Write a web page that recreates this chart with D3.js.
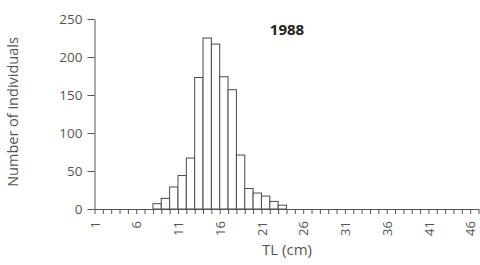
<!DOCTYPE html>
<html>
<head>
<meta charset="utf-8">
<script src="https://cdn.jsdelivr.net/npm/d3@7"></script>
<style>
  body { margin: 0; background: #fff; }
  text { font-family: "Open Sans", "Liberation Sans", sans-serif; }
</style>
</head>
<body>
<div id="chart-container"></div>
<script>
// Length classes (TL, cm) and counts of individuals, 1988
const lengthClasses = d3.range(1, 47);
const countLengths = [8, 9, 10, 11, 12, 13, 14, 15, 16, 17, 18, 19, 20, 21, 22, 23];
const counts = [7, 14, 29, 44, 67, 173, 225, 217, 174, 157, 71, 27, 21, 17, 10, 5];
const xTickLabels = [1, 6, 11, 16, 21, 26, 31, 36, 41, 46];
const yTickValues = [0, 50, 100, 150, 200, 250];
const title = "1988";

const width = 480, height = 265;
const margin = { left: 94.5, right: 1.5, top: 19, bottom: 56 };

const svg = d3.select("#chart-container")
  .append("svg")
  .attr("width", width)
  .attr("height", height);

const xScale = d3.scaleLinear()
  .domain([0.5, 46.5])
  .range([margin.left, width - margin.right]);

const yScale = d3.scaleLinear()
  .domain([0, 250])
  .range([height - margin.bottom, margin.top]);

const axisColor = "#555";

// Bars
const bars = countLengths.map((v, i) => ({ len: v, n: counts[i] }));
svg.selectAll("rect.bar")
  .data(bars)
  .enter()
  .append("rect")
  .attr("class", "bar")
  .attr("x", d => xScale(d.len - 0.5))
  .attr("y", d => yScale(d.n))
  .attr("width", d => xScale(d.len + 0.5) - xScale(d.len - 0.5))
  .attr("height", d => yScale(0) - yScale(d.n))
  .attr("fill", "#fff")
  .attr("stroke", "#4a4a4a")
  .attr("stroke-width", 1);

// X axis: ticks at class edges
const edges = lengthClasses.map(v => v - 0.5).concat([46.5]);
svg.append("g")
  .attr("transform", `translate(0,${yScale(0)})`)
  .call(d3.axisBottom(xScale).tickValues(edges).tickSize(5).tickSizeOuter(0).tickFormat(""));

// X axis labels at class centres, rotated
const xAxisLabels = svg.append("g")
  .attr("transform", `translate(-4,${yScale(0)})`)
  .call(d3.axisBottom(xScale).tickValues(xTickLabels).tickSize(0).tickFormat(d3.format("d")));
xAxisLabels.select(".domain").remove();
xAxisLabels.selectAll("text")
  .attr("transform", "rotate(-90)")
  .attr("text-anchor", "end")
  .attr("x", -12)
  .attr("y", 0)
  .attr("dy", "0.35em")
  .attr("font-size", "13px")
  .attr("fill", axisColor);

// Y axis
const yAxis = svg.append("g")
  .attr("transform", `translate(${margin.left},0)`)
  .call(d3.axisLeft(yScale).tickValues(yTickValues).tickSize(7).tickSizeOuter(0));
yAxis.selectAll("text")
  .attr("font-size", "13.5px")
  .attr("fill", axisColor)
  .attr("x", -12);

svg.selectAll(".domain, .tick line")
  .attr("stroke", axisColor)
  .attr("stroke-width", 1);
svg.selectAll(".tick text").attr("font-family", "'Open Sans', sans-serif");

// Axis titles
svg.append("text")
  .attr("x", 287)
  .attr("y", 255)
  .attr("text-anchor", "middle")
  .attr("font-size", "15px")
  .attr("fill", axisColor)
  .text("TL (cm)");

svg.append("text")
  .attr("transform", "rotate(-90)")
  .attr("x", -(yScale(125)) + 2)
  .attr("y", 18)
  .attr("text-anchor", "middle")
  .attr("font-size", "14.5px")
  .attr("fill", axisColor)
  .text("Number of individuals");

// Year title
svg.append("text")
  .attr("x", 287)
  .attr("y", 35)
  .attr("text-anchor", "middle")
  .attr("font-size", "15px")
  .attr("font-weight", "bold")
  .attr("fill", "#222")
  .text(title);
</script>
</body>
</html>
